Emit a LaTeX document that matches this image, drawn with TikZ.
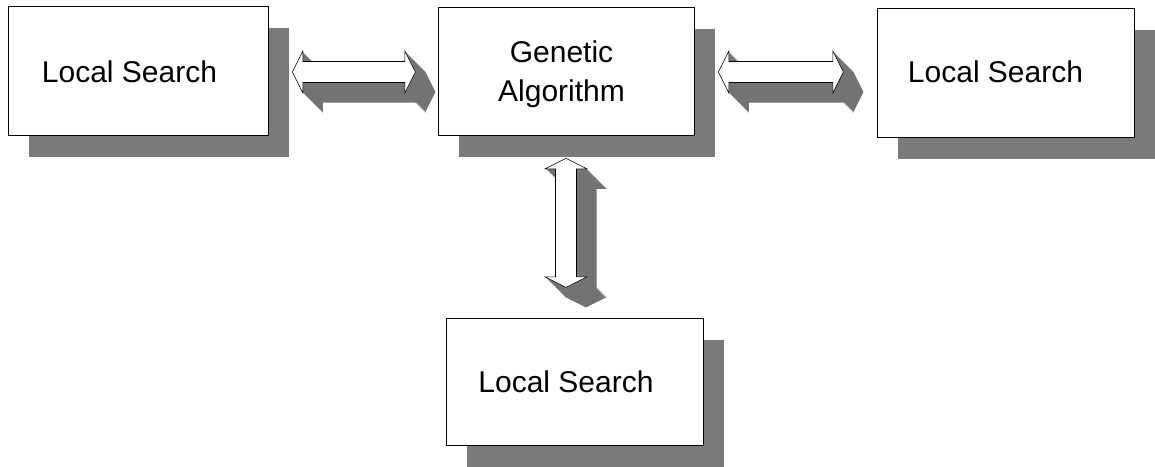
\documentclass[tikz,border=0pt]{standalone}
\usepackage{fontspec}
\setmainfont{Liberation Sans}
\usetikzlibrary{calc,shadows}
\tikzset{
  boxstyle/.style={draw=black, line width=0.8pt, fill=white, rectangle, inner sep=0pt,
    general shadow={fill=black!52, shadow xshift=21pt, shadow yshift=-22pt}},
  lbl/.style={font=\fontsize{30}{36}\selectfont, anchor=base, inner sep=0pt},
  extr/.style={fill=black!55},
  face/.style={fill=white, draw=black, line width=0.6pt, line join=miter}
}
\newcommand{\darrowpath}[1]{(0,0) -- (10.5,-21) -- (10.5,-10.5) -- (#1-10.5,-10.5) -- (#1-10.5,-21) -- (#1,0) -- (#1-10.5,21) -- (#1-10.5,10.5) -- (10.5,10.5) -- (10.5,21) -- cycle}
\newcommand{\threedarrow}[3]{%
  \foreach \t in {20,19,...,1}{%
    \begin{scope}[shift={(#1)}, shift={(\t,\t)}, rotate=#2]
      \fill[extr] \darrowpath{#3};
    \end{scope}}%
  \begin{scope}[shift={(#1)}, rotate=#2]
    \filldraw[face] \darrowpath{#3};
  \end{scope}}
\begin{document}
\begin{tikzpicture}[x=1pt, y=-1pt]
\useasboundingbox (0,0) rectangle (1155,466);
\node[boxstyle, minimum width=260pt, minimum height=129pt] (ls1) at (138,70.5) {};
\node[boxstyle, minimum width=256pt, minimum height=128pt] (ga) at (566,71) {};
\node[boxstyle, minimum width=257pt, minimum height=129pt] (ls3) at (1005.5,72.5) {};
\node[boxstyle, minimum width=257pt, minimum height=127pt] (ls4) at (574.5,381.5) {};
\node[lbl] (t1) at ($(ls1.center)+(-8.5,11.5)$) {Local Search};
\node[lbl] (t2a) at ($(ga.center)+(-4.5,-9)$) {Genetic};
\node[lbl] (t2b) at ($(ga.center)+(-4.5,30)$) {Algorithm};
\node[lbl] (t3) at ($(ls3.center)+(-10,9.5)$) {Local Search};
\node[lbl] (t4) at ($(ls4.center)+(-8.5,10.5)$) {Local Search};
\coordinate (a1) at ($(ls1.east)+(24,1.5)$);
\coordinate (a2) at ($(ga.east)+(24,1)$);
\coordinate (a3) at ($(ga.south)+(0,23)$);
\threedarrow{a1}{0}{123}
\threedarrow{a2}{0}{125}
\threedarrow{a3}{-90}{129}
\end{tikzpicture}
\end{document}
